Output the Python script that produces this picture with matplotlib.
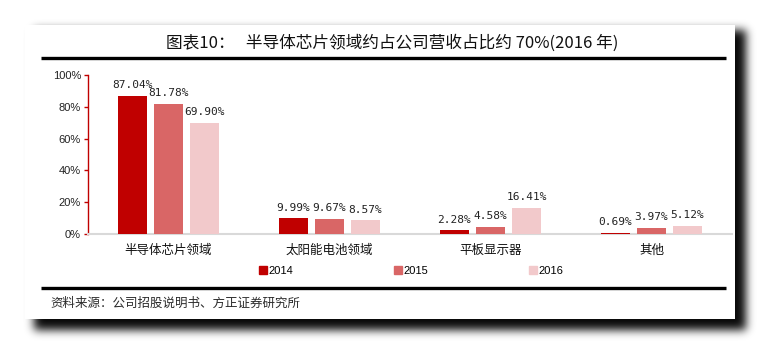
import numpy as np
import matplotlib
matplotlib.use("Agg")
import matplotlib.pyplot as plt
from matplotlib.patches import Rectangle
from matplotlib.lines import Line2D

plt.rcParams['font.family'] = ['Noto Sans CJK SC', 'DejaVu Sans']

categories = ['半导体芯片领域', '太阳能电池领域', '平板显示器', '其他']
years = ['2014', '2015', '2016']
share_2014 = [87.04, 9.99, 2.28, 0.69]
share_2015 = [81.78, 9.67, 4.58, 3.97]
share_2016 = [69.90, 8.57, 16.41, 5.12]
yticks = [0, 20, 40, 60, 80, 100]

colors = ['#C00000', '#D96666', '#F2C9CB']

W, H = 760, 344
fig = plt.figure(figsize=(W / 100, H / 100), dpi=100)
fig.patch.set_facecolor('white')


def fx(px):
    return px / W


def fy(py):
    return 1 - py / H


# soft drop shadow behind the white card
def gauss_blur(img, sigma):
    r = int(3 * sigma)
    k = np.exp(-0.5 * (np.arange(-r, r + 1) / sigma) ** 2)
    k /= k.sum()
    img = np.apply_along_axis(lambda v: np.convolve(v, k, mode='same'), 0, img)
    img = np.apply_along_axis(lambda v: np.convolve(v, k, mode='same'), 1, img)
    return img


mask = np.zeros((H, W))
mask[30:330, 34:746] = 1.0
shadow = gauss_blur(mask, 4.5)
rgba = np.zeros((H, W, 4))
rgba[..., 3] = np.clip(shadow * 0.97, 0, 1)
bg = fig.add_axes([0, 0, 1, 1])
bg.imshow(rgba, extent=(0, W, H, 0), interpolation='bilinear', zorder=0)
bg.add_patch(Rectangle((25, 25), 710, 294, facecolor='white', edgecolor='none', zorder=1))
bg.plot([41, 726], [58, 58], color='black', lw=2.4, zorder=2, solid_capstyle='butt')
bg.plot([41, 726], [288, 288], color='black', lw=2.4, zorder=2, solid_capstyle='butt')
bg.set_xlim(0, W)
bg.set_ylim(H, 0)
bg.axis('off')

fig.text(fx(392), fy(43), '图表10：   半导体芯片领域约占公司营收占比约 70%(2016 年)',
         ha='center', va='center', fontsize=12, color='#111111')
fig.text(fx(50), fy(303), '资料来源：公司招股说明书、方正证券研究所',
         ha='left', va='center', fontsize=9, color='#2a2a2a', style='italic')

# bar chart
ax = fig.add_axes([fx(88), fy(234), fx(732) - fx(88), fy(75) - fy(234)])
ax.patch.set_alpha(0)
x = np.arange(len(categories))
bw = 0.175
offs = [-0.224, 0, 0.224]
for vals, off, c, yr in zip([share_2014, share_2015, share_2016], offs, colors, years):
    bars = ax.bar(x + off, vals, width=bw, color=c, label=yr, zorder=3)
    for b, v in zip(bars, vals):
        ax.annotate(f'{v:.2f}%', (b.get_x() + b.get_width() / 2, v),
                    xytext=(0, 4), textcoords='offset points',
                    ha='center', va='bottom', fontsize=8,
                    family='DejaVu Sans Mono', color='#222222')

ax.set_xlim(-0.5, len(categories) - 0.5)
ax.set_ylim(0, 100)
ax.set_yticks(yticks)
ax.set_yticklabels([f'{t}%' for t in yticks], family='Liberation Sans', fontsize=8, color='#222222')
ax.set_xticks(x)
ax.set_xticklabels(categories, fontsize=9, color='#111111')
ax.tick_params(axis='x', length=0, pad=7)
ax.tick_params(axis='y', length=3, width=1, color='#C00000', pad=2)
for s in ['top', 'right']:
    ax.spines[s].set_visible(False)
ax.spines['left'].set_color('#C00000')
ax.spines['left'].set_linewidth(1)
ax.spines['bottom'].set_color('#D9D9D9')
ax.spines['bottom'].set_linewidth(1.5)

handles = [Line2D([], [], marker='s', ls='none', markersize=6, color=c) for c in colors]
fig.legend(handles, years, loc='center', bbox_to_anchor=(fx(411), fy(271)), ncol=3,
           frameon=False, handletextpad=0.1, columnspacing=9.05, handlelength=0.8,
           prop={'family': 'Liberation Sans', 'size': 8})

fig.savefig('out.png', dpi=100, facecolor='white')
